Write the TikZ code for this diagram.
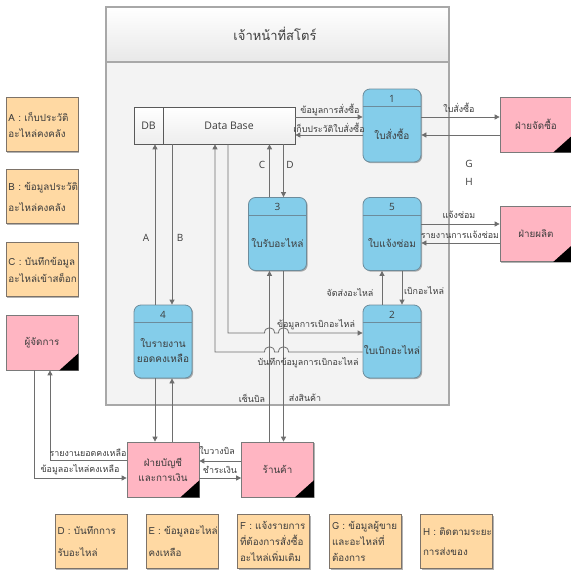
\documentclass[tikz,border=0pt]{standalone}
\usepackage{fontspec}
\setmainfont{Open Sans}
\newfontfamily\thaif[Script=Thai]{Loma}
\usetikzlibrary{arrows.meta,calc,shadows}
\definecolor{procf}{HTML}{84CDEA}
\definecolor{procb}{HTML}{6C8C9C}
\definecolor{entf}{HTML}{FFB5C2}
\definecolor{entb}{HTML}{7A7A7A}
\definecolor{notef}{HTML}{FFD9A3}
\definecolor{noteb}{HTML}{7D7369}
\definecolor{linec}{HTML}{6E6E6E}
\definecolor{txt}{HTML}{3C3C3C}
\definecolor{contb}{HTML}{A8A8A8}
\definecolor{contf}{HTML}{F3F3F3}
\tikzset{
  shd/.style={drop shadow={shadow xshift=1.2pt,shadow yshift=-1.2pt,opacity=0.3,fill=black}},
  procbox/.style={draw=procb,line width=0.8pt,fill=procf,rounded corners=7pt,minimum width=58pt,minimum height=73pt,inner sep=0pt,shd},
  ptext/.style={font=\thaif\fontsize{10}{15}\selectfont,text=txt,align=center,inner sep=0pt},
  pnum/.style={font=\fontsize{10}{12}\selectfont,text=txt,inner sep=0pt},
  entbox/.style={draw=entb,line width=0.7pt,fill=entf,minimum width=72pt,minimum height=55pt,inner sep=0pt,align=center,font=\thaif\fontsize{9.8}{15}\selectfont,text=txt,shd},
  notebox/.style={draw=noteb,line width=0.7pt,fill=notef,text width=67pt,minimum height=54pt,inner xsep=2.5pt,inner ysep=0pt,align=left,text=txt,shd},
  dbbox/.style={draw=black!65,line width=0.7pt,top color=white,bottom color=black!7,minimum height=37pt,inner sep=0pt,font=\fontsize{10.5}{12}\selectfont,text=txt},
  flow/.style={draw=linec,line width=0.8pt,-{Triangle[length=5pt,width=5pt]}},
  lab/.style={font=\thaif\fontsize{8.9}{10}\selectfont,text=txt,inner sep=0pt},
  letr/.style={font=\fontsize{10}{12}\selectfont,text=txt,inner sep=0pt},
}
\newcommand\mkproc[4]{%
  \node[procbox] (#1) at (#2) {};
  \draw[procb,line width=0.7pt] ($(#1.north west)+(0,18)$) -- ($(#1.north east)+(0,18)$);
  \node[pnum] (#1n) at ($(#1.north)+(0,10)$) {#3};
  \node[ptext] (#1t) at ($(#1.center)+(0,9)$) {#4};
}
\newcommand\mkent[4]{%
  \node[entbox] (#1) at (#2) {#4};
  \fill[black] (#1.south east) -- ++(-19,0) -- ++(19,-17) -- cycle;
}
\begin{document}
\begin{tikzpicture}[x=1pt,y=-1pt]
\useasboundingbox (0,0) rectangle (571,570);
\fill[white] (0,0) rectangle (571,570);
% container
\fill[contf] (106,7) rectangle (449,405);
\shade[top color=white,bottom color=black!9] (106,7) rectangle (449,62);
\draw[contb,line width=1.2pt] (106,7) rectangle (449,405);
\draw[contb,line width=1.2pt] (106,62) -- (449,62);
\node[font=\thaif\fontsize{13}{15}\selectfont,text=txt] (title) at (275,34) {เจ้าหน้าที่สโตร์};
% data store
\node[dbbox,minimum width=29pt] (dbl) at (148.5,125.5) {DB};
\node[dbbox,minimum width=132pt] (dbr) at (229,125.5) {Data Base};
% processes
\mkproc{p1}{392,125.5}{1}{ใบสั่งซื้อ}
\mkproc{p3}{277.5,234}{3}{ใบรับอะไหล่}
\mkproc{p5}{392,234}{5}{ใบแจ้งซ่อม}
\mkproc{p2}{392,341.5}{2}{ใบเบิกอะไหล่}
\mkproc{p4}{163,341.5}{4}{ใบรายงาน\\ยอดคงเหลือ}
% external entities
\mkent{buy}{536,124.5}{}{ฝ่ายจัดซื้อ}
\mkent{prod}{536,234}{}{ฝ่ายผลิต}
\mkent{mgr}{42,342.5}{}{ผู้จัดการ}
\mkent{acc}{163,469.5}{}{ฝ่ายบัญชี\\และการเงิน}
\mkent{shop}{277.5,469.5}{}{ร้านค้า}
% notes
\node[notebox,font=\thaif\fontsize{9.8}{16}\selectfont] (na) at (42,124.5) {A~:~เก็บประวัติ\\อะไหล่คงคลัง};
\node[notebox,font=\thaif\fontsize{9.8}{21}\selectfont] (nb) at (42,196.5) {B~:~ข้อมูลประวัติ\\อะไหล่คงคลัง};
\node[notebox,font=\thaif\fontsize{9.8}{17}\selectfont] (nc) at (42,269.5) {C~:~บันทึกข้อมูล\\อะไหล่เข้าสต็อก};
\node[notebox,font=\thaif\fontsize{9.8}{22}\selectfont] (nd) at (91,541.5) {D~:~บันทึกการ\\รับอะไหล่};
\node[notebox,font=\thaif\fontsize{9.8}{22}\selectfont] (ne) at (182,541.5) {E~:~ข้อมูลอะไหล่\\คงเหลือ};
\node[notebox,font=\thaif\fontsize{9.8}{16}\selectfont] (nf) at (273.5,541.5) {F~:~แจ้งรายการ\\ที่ต้องการสั่งซื้อ\\อะไหล่เพิ่มเติม};
\node[notebox,font=\thaif\fontsize{9.8}{16}\selectfont] (ng) at (365.5,541.5) {G~:~ข้อมูลผู้ขาย\\และอะไหล่ที่\\ต้องการ};
\node[notebox,font=\thaif\fontsize{9.8}{20}\selectfont] (nh) at (456.5,541.5) {H~:~ติดตามระยะ\\การส่งของ};
% connectors
\coordinate (r1a) at ($(p1.west)+(0,-8.5)$);
\coordinate (r1b) at ($(p1.west)+(0,9.5)$);
\draw[flow] (r1a -| dbr.east) -- (r1a);
\draw[flow] (r1b) -- (r1b -| dbr.east);
\coordinate (r2a) at ($(p1.east)+(0,-8.5)$);
\coordinate (r2b) at ($(p1.east)+(0,9.5)$);
\draw[flow] (r2a) -- (r2a -| buy.west);
\draw[flow] (r2b -| buy.west) -- (r2b);
\coordinate (r3a) at ($(p5.east)+(0,-10)$);
\coordinate (r3b) at ($(p5.east)+(0,9)$);
\draw[flow] (r3a) -- (r3a -| prod.west);
\draw[flow] (r3b -| prod.west) -- (r3b);
\coordinate (xc) at (269.5,0);
\coordinate (xd) at (283.5,0);
\draw[flow] (xc |- p3.north) -- (xc |- dbr.south);
\draw[flow] (xd |- dbr.south) -- (xd |- p3.north);
\draw[flow] (xc |- shop.north) -- (xc |- p3.south);
\draw[flow] (xd |- p3.south) -- (xd |- shop.north);
\coordinate (xa) at (155,0);
\coordinate (xb) at (172,0);
\draw[flow] (xa |- p4.north) -- (xa |- dbl.south);
\draw[flow] (xb |- dbr.south) -- (xb |- p4.north);
\draw[flow] (xa |- p4.south) -- (xa |- acc.north);
\draw[flow] (xb |- acc.north) -- (xb |- p4.south);
\coordinate (xe) at (382,0);
\coordinate (xf) at (402,0);
\draw[flow] (xe |- p2.north) -- (xe |- p5.south);
\draw[flow] (xf |- p5.south) -- (xf |- p2.north);
\coordinate (r4a) at ($(shop.west)+(0,-8.5)$);
\coordinate (r4b) at ($(shop.west)+(0,8.5)$);
\draw[flow] (r4a) -- (r4a -| acc.east);
\draw[flow] (r4b -| acc.east) -- (r4b);
\coordinate (k3) at (50,460);
\draw[flow] (k3 -| acc.west) -- (k3) -- (k3 |- mgr.south);
\coordinate (k4) at (34,478);
\draw[flow] (k4 |- mgr.south) -- (k4) -- (k4 -| acc.west);
\coordinate (k1) at (228,333);
\draw[flow] (k1 |- dbr.south) -- (k1) -- (264.5,333) .. controls (264.5,326) and (274.5,326) .. (274.5,333) -- (278.5,333) .. controls (278.5,326) and (288.5,326) .. (288.5,333) -- (k1 -| p2.west);
\coordinate (k2) at (215,352);
\draw[flow] (k2 -| p2.west) -- (288.5,352) .. controls (288.5,345) and (278.5,345) .. (278.5,352) -- (274.5,352) .. controls (274.5,345) and (264.5,345) .. (264.5,352) -- (k2) -- (k2 |- dbr.south);
% labels
\node[lab] (l1) at (330,110) {ข้อมูลการสั่งซื้อ};
\node[lab] (l2) at (329,128) {เก็บประวัติใบสั่งซื้อ};
\node[lab] (l3) at (459,108) {ใบสั่งซื้อ};
\node[letr] (lg) at (469,164) {G};
\node[letr] (lh) at (469,182) {H};
\node[lab] (l4) at (459,215) {แจ้งซ่อม};
\node[lab] (l5) at (460,235) {รายงานการแจ้งซ่อม};
\node[letr] (lc) at (262,165) {C};
\node[letr] (ld) at (290,165) {D};
\node[letr] (la) at (146,238) {A};
\node[letr] (lb) at (180,238) {B};
\node[lab] (l6) at (316,325) {ข้อมูลการเบิกอะไหล่};
\node[lab] (l7) at (308,363) {บันทึกข้อมูลการเบิกอะไหล่};
\node[lab] (l8) at (350,293) {จัดส่งอะไหล่};
\node[lab] (l9) at (424,291) {เบิกอะไหล่};
\node[lab] (l10) at (252,398) {เซ็นบิล};
\node[lab] (l11) at (305,398) {ส่งสินค้า};
\node[lab] (l12) at (88,453) {รายงานยอดคงเหลือ};
\node[lab] (l13) at (80,470) {ข้อมูลอะไหล่คงเหลือ};
\node[lab] (l14) at (217,451) {ใบวางบิล};
\node[lab] (l15) at (220,470) {ชำระเงิน};
\end{tikzpicture}
\end{document}
